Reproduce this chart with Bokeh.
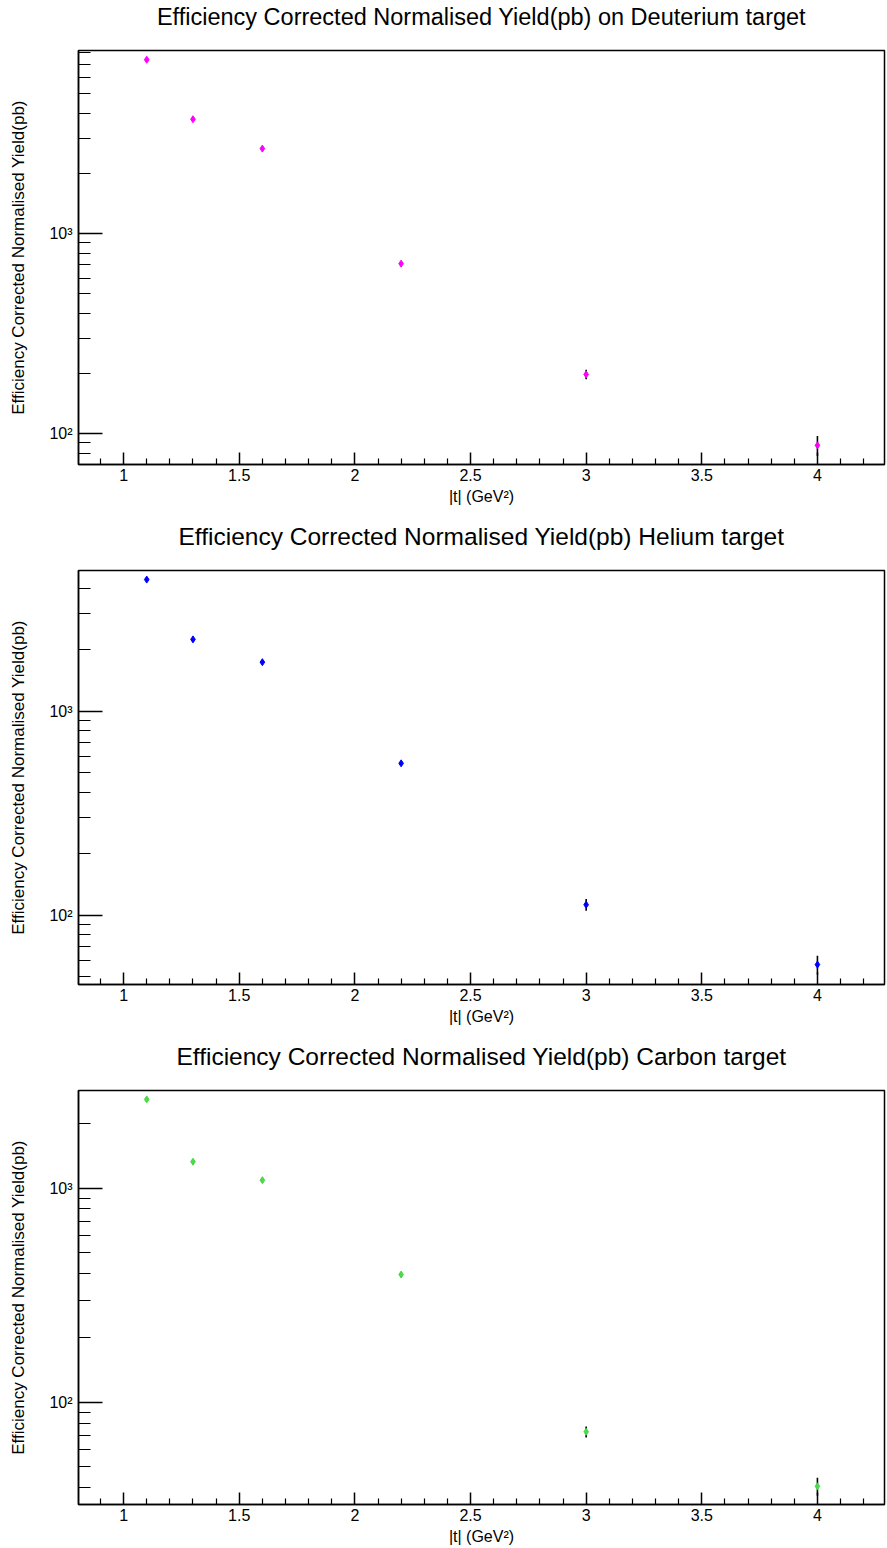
from bokeh.plotting import figure
from bokeh.layouts import column
from bokeh.models import FixedTicker, ColumnDataSource, Range1d, LinearAxis
from bokeh.embed import file_html
from bokeh.resources import INLINE

# ---- data ----
t_values = [1.1, 1.3, 1.6, 2.2, 3.0, 4.0]

deuterium_yield = [7400, 3730, 2660, 708, 198, 87.5]
deuterium_err = [90, 60, 50, 15, 11, 10]

helium_yield = [4420, 2250, 1740, 555, 112.5, 57.2]
helium_err = [70, 45, 40, 12, 7.5, 6]

carbon_yield = [2600, 1330, 1090, 395, 72.8, 40.5]
carbon_err = [45, 30, 28, 10, 4.3, 3.9]

titles = [
    "Efficiency Corrected Normalised Yield(pb) on Deuterium target",
    "Efficiency Corrected Normalised Yield(pb) Helium target",
    "Efficiency Corrected Normalised Yield(pb) Carbon target",
]
x_axis_title = "|t| (GeV\u00b2)"
y_axis_title = "Efficiency Corrected Normalised Yield(pb)"

x_major_ticks = [1, 1.5, 2, 2.5, 3, 3.5, 4]
x_major_labels = ["1", "1.5", "2", "2.5", "3", "3.5", "4"]
x_minor_ticks = [0.9, 1.1, 1.2, 1.3, 1.4, 1.6, 1.7, 1.8, 1.9, 2.1, 2.2, 2.3, 2.4,
                 2.6, 2.7, 2.8, 2.9, 3.1, 3.2, 3.3, 3.4, 3.6, 3.7, 3.8, 3.9, 4.1, 4.2]
y_major_ticks = [100, 1000]
y_major_labels = ["10\u00b2", "10\u00b3"]
y_minor_ticks = [20, 30, 40, 50, 60, 70, 80, 90,
                 200, 300, 400, 500, 600, 700, 800, 900,
                 2000, 3000, 4000, 5000, 6000, 7000, 8000, 9000]

FONT = "Liberation Sans"

panels = [
    dict(y=deuterium_yield, e=deuterium_err, color="#ff00ff", yr=(70.2, 8224),
         top=50, bottom=52, tsize="23.5px"),
    dict(y=helium_yield, e=helium_err, color="#0000ff", yr=(45.7, 4897),
         top=54, bottom=48, tsize="24.5px"),
    dict(y=carbon_yield, e=carbon_err, color="#4dd84d", yr=(33.3, 2861),
         top=58, bottom=44, tsize="24.5px"),
]

figs = []
for title, pn in zip(titles, panels):
    p = figure(width=887, height=516, y_axis_type="log",
               x_range=Range1d(0.805, 4.29), y_range=Range1d(*pn["yr"]),
               output_backend="svg", toolbar_location=None,
               min_border_left=78, min_border_right=3,
               min_border_top=pn["top"], min_border_bottom=pn["bottom"])
    p.title.visible = False

    # title drawn as the label of an empty axis above the frame
    top_axis = LinearAxis(ticker=FixedTicker(ticks=[]), axis_line_color=None,
                          major_tick_line_color=None, minor_tick_line_color=None,
                          major_tick_in=0, major_tick_out=0, minor_tick_in=0,
                          minor_tick_out=0, major_label_standoff=0,
                          axis_label=title, axis_label_standoff=21,
                          axis_label_text_font=FONT,
                          axis_label_text_font_size=pn["tsize"],
                          axis_label_text_font_style="normal",
                          axis_label_text_color="black")
    p.add_layout(top_axis, "above")

    p.xgrid.visible = False
    p.ygrid.visible = False
    p.outline_line_color = "black"
    p.outline_line_width = 1.5
    p.outline_line_alpha = 1.0

    lower = [v - e for v, e in zip(pn["y"], pn["e"])]
    upper = [v + e for v, e in zip(pn["y"], pn["e"])]
    src = ColumnDataSource(dict(t=t_values, y=pn["y"], lo=lower, hi=upper))
    p.segment(x0="t", y0="lo", x1="t", y1="hi", source=src,
              line_color="black", line_width=1.6)
    p.scatter(x="t", y="y", source=src, marker="diamond", size=7,
              fill_color=pn["color"], line_color=pn["color"])

    xa = p.below[0]
    xa.ticker = FixedTicker(ticks=x_major_ticks, minor_ticks=x_minor_ticks)
    xa.major_label_overrides = dict(zip(x_major_ticks, x_major_labels))
    xa.major_tick_in = 12
    xa.major_tick_out = 0
    xa.minor_tick_in = 6
    xa.minor_tick_out = 0
    xa.axis_line_width = 1.5
    xa.major_tick_line_width = 1.5
    xa.minor_tick_line_width = 1.2
    xa.major_label_text_font = FONT
    xa.major_label_text_font_size = "16px"
    xa.major_label_text_color = "black"
    xa.major_label_standoff = 4
    xa.axis_label = x_axis_title
    xa.axis_label_text_font = FONT
    xa.axis_label_text_font_size = "16px"
    xa.axis_label_text_font_style = "normal"
    xa.axis_label_text_color = "black"
    xa.axis_label_standoff = 4

    ya = p.left[0]
    ya.ticker = FixedTicker(ticks=y_major_ticks, minor_ticks=y_minor_ticks)
    ya.major_label_overrides = dict(zip(y_major_ticks, y_major_labels))
    ya.major_tick_in = 24
    ya.major_tick_out = 0
    ya.minor_tick_in = 12
    ya.minor_tick_out = 0
    ya.axis_line_width = 1.5
    ya.major_tick_line_width = 1.5
    ya.minor_tick_line_width = 1.2
    ya.major_label_text_font = FONT
    ya.major_label_text_font_size = "16px"
    ya.major_label_text_color = "black"
    ya.major_label_standoff = 6
    ya.axis_label = y_axis_title
    ya.axis_label_text_font = FONT
    ya.axis_label_text_font_size = "17px"
    ya.axis_label_text_font_style = "normal"
    ya.axis_label_text_color = "black"
    ya.axis_label_standoff = 18
    figs.append(p)

layout = column(*figs, spacing=0)
open("out.html", "w").write(file_html(layout, INLINE))
